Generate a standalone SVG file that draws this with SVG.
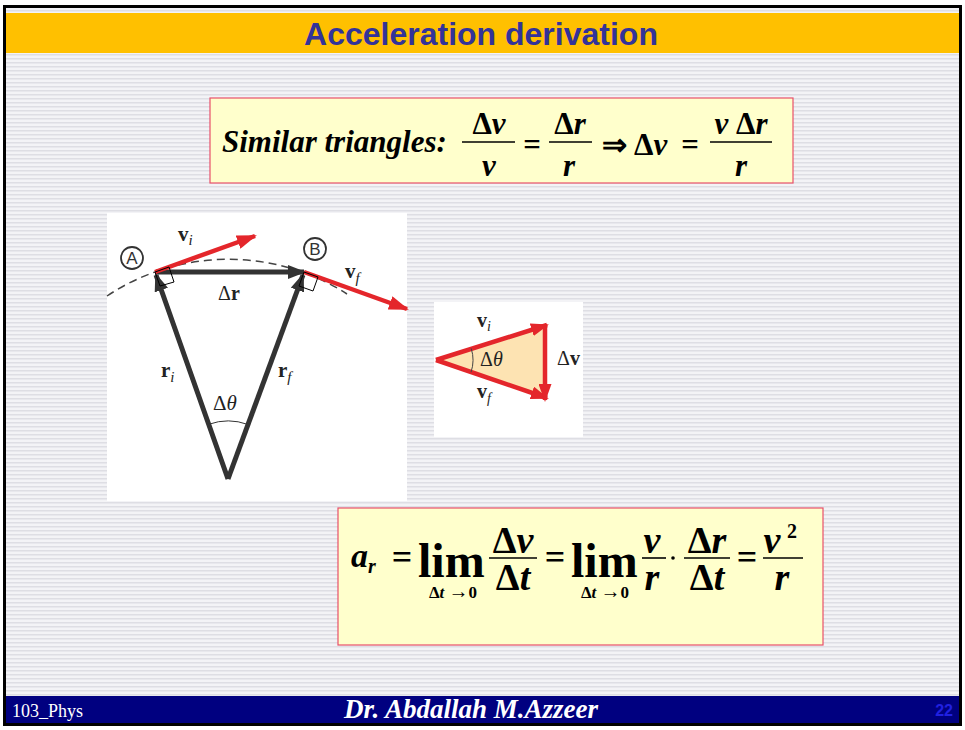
<svg xmlns="http://www.w3.org/2000/svg" width="965" height="730" viewBox="0 0 965 730">
<defs>
<pattern id="stripes" width="4" height="4" patternUnits="userSpaceOnUse">
<rect width="4" height="4" fill="#F3F3F6"/>
<rect y="2" width="4" height="1.5" fill="#DEDEE4"/>
</pattern>
<marker id="ahDark" markerWidth="18" markerHeight="14" refX="16" refY="7" orient="auto" markerUnits="userSpaceOnUse">
<path d="M0,0 L18,7 L0,14 Z" fill="#333333"/>
</marker>
<marker id="ahRed" markerWidth="20" markerHeight="14" refX="18" refY="7" orient="auto" markerUnits="userSpaceOnUse">
<path d="M0,0 L20,7 L0,14 Z" fill="#E4262B"/>
</marker>
<marker id="ahRed2" markerWidth="18" markerHeight="13" refX="16" refY="6.5" orient="auto" markerUnits="userSpaceOnUse">
<path d="M0,0 L18,6.5 L0,13 Z" fill="#E4262B"/>
</marker>
</defs>
<style>
.eq{font-family:"Liberation Serif","Times New Roman",serif;font-weight:bold;fill:#000}
.it{font-style:italic}
.lbl{font-family:"Liberation Serif","Times New Roman",serif;fill:#222}
.box{fill:#FFFFCC;stroke:#E8506A;stroke-width:1.2}
.vecD{stroke:#333333;stroke-width:5;fill:none}
.vecR{stroke:#E4262B;stroke-width:4.5;fill:none}
.fl{stroke:#000;stroke-width:1.6}
</style>

<!-- slide background -->
<rect x="0" y="0" width="965" height="730" fill="#FFFFFF"/>
<rect x="4" y="6" width="957" height="719" fill="url(#stripes)"/>

<!-- title bar -->
<g id="title">
<rect x="6" y="13" width="953" height="40" fill="#FFC000"/>
<text x="481" y="45" text-anchor="middle" font-family="Liberation Sans, Arial, sans-serif" font-weight="bold" font-size="32" fill="#333399">Acceleration derivation</text>
</g>

<!-- box 1: similar triangles -->
<g id="eq1">
<rect class="box" x="210" y="98" width="583" height="85"/>
<text class="eq it" x="222" y="152" font-size="31">Similar triangles:</text>
<text class="eq" x="489" y="134" font-size="31" text-anchor="middle">Δ<tspan class="it">v</tspan></text>
<line class="fl" x1="462" y1="142" x2="515" y2="142"/>
<text class="eq it" x="489" y="176" font-size="31" text-anchor="middle">v</text>
<text class="eq" x="532" y="155" font-size="31" text-anchor="middle">=</text>
<text class="eq" x="570" y="134" font-size="31" text-anchor="middle">Δ<tspan class="it">r</tspan></text>
<line class="fl" x1="549" y1="142" x2="592" y2="142"/>
<text class="eq it" x="569" y="176" font-size="31" text-anchor="middle">r</text>
<text class="eq" x="614" y="155" font-size="30" font-weight="normal" text-anchor="middle">⇒</text>
<text class="eq" x="634" y="155" font-size="31">Δ<tspan class="it">v</tspan></text>
<text class="eq" x="690" y="155" font-size="31" text-anchor="middle">=</text>
<text class="eq" x="741" y="134" font-size="31" text-anchor="middle"><tspan class="it">v</tspan> Δ<tspan class="it">r</tspan></text>
<line class="fl" x1="710" y1="142" x2="772" y2="142"/>
<text class="eq it" x="741" y="176" font-size="31" text-anchor="middle">r</text>
</g>

<!-- figure 1: position vectors -->
<g id="fig1">
<rect x="107" y="213" width="300" height="288" fill="#FFFFFF"/>
<path d="M107,296 A219.5,219.5 0 0 1 347,294" fill="none" stroke="#444" stroke-width="1.5" stroke-dasharray="8 5"/>
<line class="vecD" x1="228" y1="479" x2="156" y2="275" marker-end="url(#ahDark)"/>
<line class="vecD" x1="228" y1="479" x2="303" y2="275" marker-end="url(#ahDark)"/>
<line class="vecD" x1="156" y1="272" x2="304" y2="272" marker-end="url(#ahDark)"/>
<line class="vecR" x1="155" y1="272" x2="255" y2="236" marker-end="url(#ahRed)"/>
<line class="vecR" x1="304" y1="272" x2="407" y2="309" marker-end="url(#ahRed)"/>
<polygon points="155,272 169,267 174,282 160,286" fill="none" stroke="#000" stroke-width="1"/>
<polygon points="304,272 318,277 313,291 299,286" fill="none" stroke="#000" stroke-width="1"/>
<path d="M208.7,424.3 A58,58 0 0 1 248,424.5" fill="none" stroke="#333" stroke-width="1"/>
<circle cx="132" cy="258" r="11" fill="#FFFFFF" stroke="#333" stroke-width="1.8"/>
<text x="132" y="264" text-anchor="middle" font-family="Liberation Sans, Arial, sans-serif" font-size="17" fill="#333">A</text>
<circle cx="315" cy="249" r="11" fill="#FFFFFF" stroke="#333" stroke-width="1.8"/>
<text x="315" y="255" text-anchor="middle" font-family="Liberation Sans, Arial, sans-serif" font-size="17" fill="#333">B</text>
<text class="lbl" x="178" y="241" font-size="21" font-weight="bold">v<tspan font-size="15" font-weight="normal" font-style="italic" dy="4">i</tspan></text>
<text class="lbl" x="218" y="300" font-size="20">Δ<tspan font-weight="bold">r</tspan></text>
<text class="lbl" x="161" y="377" font-size="21" font-weight="bold">r<tspan font-size="15" font-weight="normal" font-style="italic" dy="5">i</tspan></text>
<text class="lbl" x="278" y="377" font-size="21" font-weight="bold">r<tspan font-size="15" font-weight="normal" font-style="italic" dy="5">f</tspan></text>
<text class="lbl" x="213" y="410" font-size="21">Δ<tspan font-style="italic">θ</tspan></text>
<text class="lbl" x="345" y="278" font-size="21" font-weight="bold">v<tspan font-size="15" font-weight="normal" font-style="italic" dy="5">f</tspan></text>
</g>

<!-- figure 2: velocity triangle -->
<g id="fig2">
<rect x="434" y="302" width="149" height="135" fill="#FFFFFF"/>
<polygon points="435,360 546,324 546,398" fill="#FDE3B2"/>
<line class="vecR" x1="436" y1="360" x2="547" y2="325" marker-end="url(#ahRed2)"/>
<line class="vecR" x1="436" y1="360" x2="547" y2="398" marker-end="url(#ahRed2)"/>
<line class="vecR" x1="545" y1="324" x2="545" y2="400" marker-end="url(#ahRed2)"/>
<path d="M471.2,348.4 A38,38 0 0 1 471,372.2" fill="none" stroke="#444" stroke-width="1"/>
<text class="lbl" x="477" y="327" font-size="20" font-weight="bold">v<tspan font-size="14" font-weight="normal" font-style="italic" dy="4">i</tspan></text>
<text class="lbl" x="480" y="366" font-size="20">Δ<tspan font-style="italic">θ</tspan></text>
<text class="lbl" x="557" y="365" font-size="20">Δ<tspan font-weight="bold">v</tspan></text>
<text class="lbl" x="477" y="398" font-size="20" font-weight="bold">v<tspan font-size="14" font-weight="normal" font-style="italic" dy="5">f</tspan></text>
</g>

<!-- box 2: centripetal acceleration -->
<g id="eq2">
<rect class="box" x="338" y="508" width="485" height="137"/>
<text class="eq it" x="351" y="567" font-size="34">a<tspan font-size="20" dy="6">r</tspan></text>
<text class="eq" x="402" y="569" font-size="36" text-anchor="middle">=</text>
<text class="eq" x="418" y="577" font-size="48">lim</text>
<text class="eq" x="453" y="598" font-size="17" text-anchor="middle">Δ<tspan class="it">t</tspan> <tspan font-size="20">→</tspan>0</text>
<text class="eq" x="513" y="553" font-size="38" text-anchor="middle">Δ<tspan class="it">v</tspan></text>
<line class="fl" x1="489" y1="558" x2="537" y2="558"/>
<text class="eq" x="513" y="590" font-size="38" text-anchor="middle">Δ<tspan class="it">t</tspan></text>
<text class="eq" x="555" y="569" font-size="36" text-anchor="middle">=</text>
<text class="eq" x="571" y="577" font-size="48">lim</text>
<text class="eq" x="605" y="598" font-size="17" text-anchor="middle">Δ<tspan class="it">t</tspan> <tspan font-size="20">→</tspan>0</text>
<text class="eq it" x="652" y="553" font-size="38" text-anchor="middle">v</text>
<line class="fl" x1="642" y1="558" x2="666" y2="558"/>
<text class="eq it" x="652" y="590" font-size="38" text-anchor="middle">r</text>
<circle cx="673" cy="558" r="1.8" fill="#000"/>
<text class="eq" x="707" y="553" font-size="38" text-anchor="middle">Δ<tspan class="it">r</tspan></text>
<line class="fl" x1="684" y1="558" x2="730" y2="558"/>
<text class="eq" x="707" y="590" font-size="38" text-anchor="middle">Δ<tspan class="it">t</tspan></text>
<text class="eq" x="747" y="569" font-size="36" text-anchor="middle">=</text>
<text class="eq it" x="772" y="553" font-size="38" text-anchor="middle">v</text>
<text class="eq" x="787" y="538" font-size="20">2</text>
<line class="fl" x1="763" y1="558" x2="803" y2="558"/>
<text class="eq it" x="782" y="590" font-size="38" text-anchor="middle">r</text>
</g>

<!-- footer -->
<g id="footer">
<rect x="4" y="696" width="957" height="27" fill="#000080"/>
<text x="12" y="717" font-family="Liberation Serif, Times New Roman, serif" font-size="18" fill="#FFFFFF">103_Phys</text>
<text x="471" y="718" text-anchor="middle" font-family="Liberation Serif, Times New Roman, serif" font-style="italic" font-weight="bold" font-size="27" fill="#FFFFFF">Dr. Abdallah M.Azzeer</text>
<text x="953" y="716" text-anchor="end" font-family="Liberation Sans, Arial, sans-serif" font-weight="bold" font-size="16" fill="#2020E0">22</text>
</g>

<!-- frame -->
<rect x="4.5" y="6.5" width="956" height="718" fill="none" stroke="#000" stroke-width="3"/>
</svg>
